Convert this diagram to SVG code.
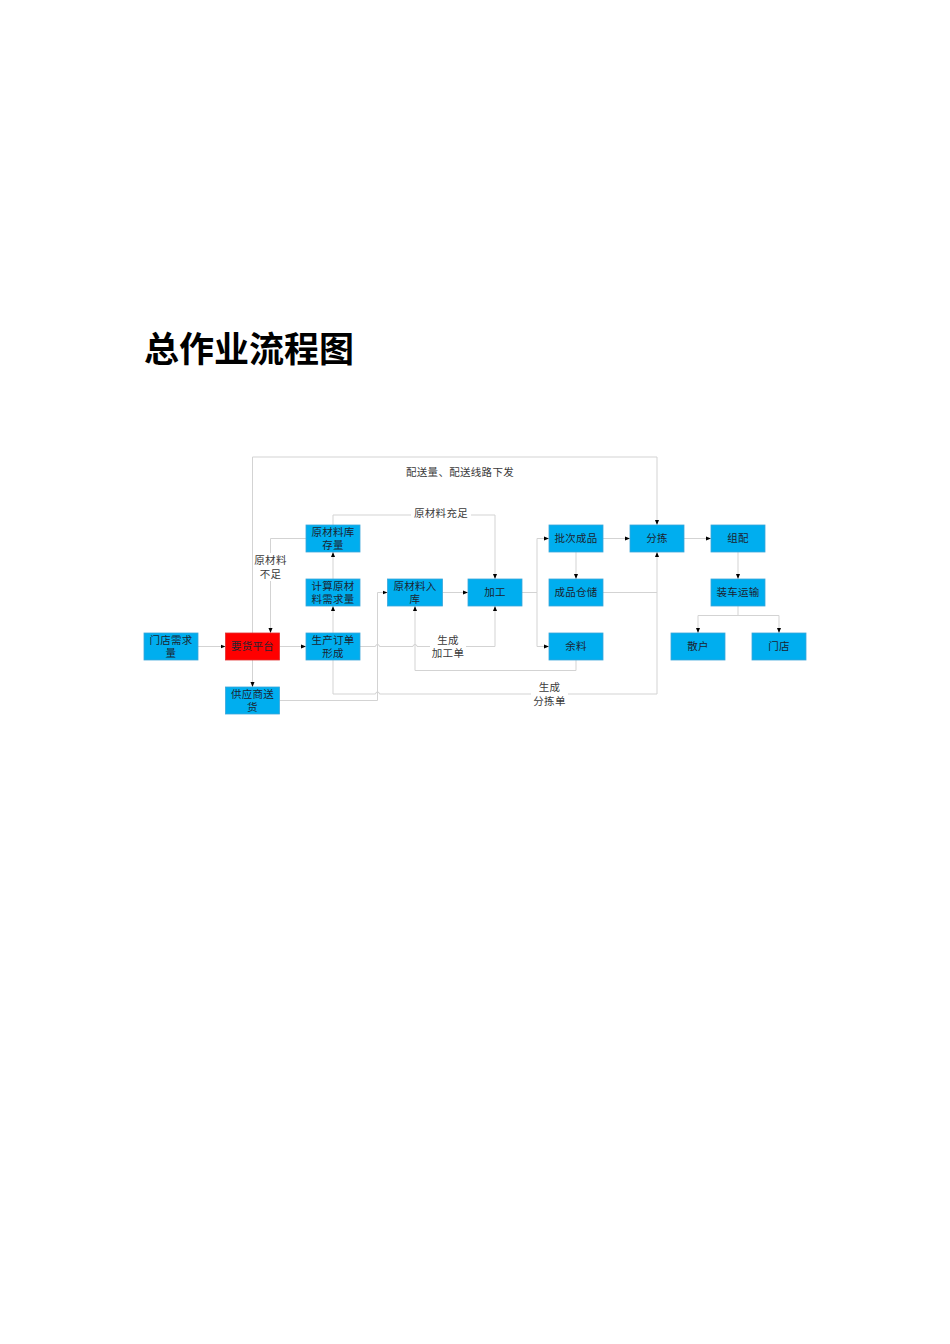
<svg xmlns="http://www.w3.org/2000/svg" width="950" height="1344" viewBox="0 0 950 1344">
<style>
.bg{fill:#ffffff}
.box{fill:#00AEEF;stroke:#3AA6DA;stroke-width:0.8}
.red{fill:#FF0000;stroke:#E03030;stroke-width:0.8}
.bt{font-family:"Liberation Serif","Noto Sans CJK SC",serif;font-size:10.5px;fill:#1c2430;text-anchor:middle;dominant-baseline:central;letter-spacing:0.3px}
.lt{font-family:"Liberation Serif","Noto Sans CJK SC",serif;font-size:10.5px;fill:#3a3a3a;text-anchor:middle;dominant-baseline:central;letter-spacing:0.3px}
.ln{fill:none;stroke:#D3D3D3;stroke-width:1}
.title{font-family:"Liberation Sans","Noto Sans CJK SC",sans-serif;font-size:35px;font-weight:bold;fill:#000000}
</style>
<defs>
<marker id="ar" viewBox="0 0 10 10" refX="10" refY="5" markerWidth="5" markerHeight="5" markerUnits="userSpaceOnUse" orient="auto">
<path d="M0,1 L10,5 L0,9 z" fill="#000000"/>
</marker>
</defs>
<rect class="bg" x="0" y="0" width="950" height="1344"/>
<text class="title" x="144" y="362">总作业流程图</text>

<g id="connectors">
<path class="ln" d="M198,646.5 H225.5" marker-end="url(#ar)"/>
<path class="ln" d="M279.5,646.5 H306" marker-end="url(#ar)"/>
<path class="ln" d="M252.5,660 V687" marker-end="url(#ar)"/>
<path class="ln" d="M252.5,633 V457 H657 V525" marker-end="url(#ar)"/>
<path class="ln" d="M306,538.5 H270.5 V633" marker-end="url(#ar)"/>
<path class="ln" d="M333,633 V606" marker-end="url(#ar)"/>
<path class="ln" d="M333,579 V552" marker-end="url(#ar)"/>
<path class="ln" d="M333,525 V515 H495 V579" marker-end="url(#ar)"/>
<path class="ln" d="M360,646.5 H375.5 A2,2 0 0 1 379.5,646.5 H413 A2,2 0 0 1 417,646.5 H495 V606" marker-end="url(#ar)"/>
<path class="ln" d="M279.5,700.5 H377.5 V592.5 H387.5" marker-end="url(#ar)"/>
<path class="ln" d="M442.5,592.5 H468" marker-end="url(#ar)"/>
<path class="ln" d="M576,660 V670.5 H415 V606" marker-end="url(#ar)"/>
<path class="ln" d="M522,592.5 H537"/>
<path class="ln" d="M537,592.5 V538.5 H549" marker-end="url(#ar)"/>
<path class="ln" d="M537,592.5 V646.5 H549" marker-end="url(#ar)"/>
<path class="ln" d="M576,552 V579" marker-end="url(#ar)"/>
<path class="ln" d="M603,538.5 H630" marker-end="url(#ar)"/>
<path class="ln" d="M603,592.5 H657"/>
<path class="ln" d="M333,660 V694 H375.5 A2,2 0 0 1 379.5,694 H657 V552" marker-end="url(#ar)"/>
<path class="ln" d="M684,538.5 H711" marker-end="url(#ar)"/>
<path class="ln" d="M738,552 V579" marker-end="url(#ar)"/>
<path class="ln" d="M738,606 V615.5"/>
<path class="ln" d="M738,615.5 H698 V633" marker-end="url(#ar)"/>
<path class="ln" d="M738,615.5 H779 V633" marker-end="url(#ar)"/>
</g>

<g id="labels">
<text class="lt" x="460" y="472.5">配送量、配送线路下发</text>
<rect class="bg" x="411" y="507" width="60" height="14"/>
<text class="lt" x="441" y="513.5">原材料充足</text>
<rect class="bg" x="253" y="553" width="35" height="28"/>
<text class="lt" x="270.5" y="560.5">原材料</text>
<text class="lt" x="270.5" y="574">不足</text>
<rect class="bg" x="430" y="633" width="36" height="27"/>
<text class="lt" x="448" y="640">生成</text>
<text class="lt" x="448" y="653.5">加工单</text>
<rect class="bg" x="531" y="680" width="37" height="28"/>
<text class="lt" x="549.5" y="687.5">生成</text>
<text class="lt" x="549.5" y="701.5">分拣单</text>
</g>

<g id="n-mendian-xuqiu"><rect class="box" x="144" y="633" width="54" height="27"/><text class="bt" x="171" y="640">门店需求</text><text class="bt" x="171" y="653">量</text></g>
<g id="n-yaohuo"><rect class="red" x="225.5" y="633" width="54" height="27"/><text class="bt" x="252.5" y="646.5">要货平台</text></g>
<g id="n-shengchan"><rect class="box" x="306" y="633" width="54" height="27"/><text class="bt" x="333" y="640">生产订单</text><text class="bt" x="333" y="653">形成</text></g>
<g id="n-jisuan"><rect class="box" x="306" y="579" width="54" height="27"/><text class="bt" x="333" y="586">计算原材</text><text class="bt" x="333" y="599">料需求量</text></g>
<g id="n-kucun"><rect class="box" x="306" y="525" width="54" height="27"/><text class="bt" x="333" y="532">原材料库</text><text class="bt" x="333" y="545">存量</text></g>
<g id="n-gongying"><rect class="box" x="225.5" y="687" width="54" height="27"/><text class="bt" x="252.5" y="694">供应商送</text><text class="bt" x="252.5" y="707">货</text></g>
<g id="n-ruku"><rect class="box" x="387.5" y="579" width="55" height="27"/><text class="bt" x="415" y="586">原材料入</text><text class="bt" x="415" y="599">库</text></g>
<g id="n-jiagong"><rect class="box" x="468" y="579" width="54" height="27"/><text class="bt" x="495" y="592.5">加工</text></g>
<g id="n-pici"><rect class="box" x="549" y="525" width="54" height="27"/><text class="bt" x="576" y="538.5">批次成品</text></g>
<g id="n-cangchu"><rect class="box" x="549" y="579" width="54" height="27"/><text class="bt" x="576" y="592.5">成品仓储</text></g>
<g id="n-yuliao"><rect class="box" x="549" y="633" width="54" height="27"/><text class="bt" x="576" y="646.5">余料</text></g>
<g id="n-fenjian"><rect class="box" x="630" y="525" width="54" height="27"/><text class="bt" x="657" y="538.5">分拣</text></g>
<g id="n-zupei"><rect class="box" x="711" y="525" width="54" height="27"/><text class="bt" x="738" y="538.5">组配</text></g>
<g id="n-zhuangche"><rect class="box" x="711" y="579" width="54" height="27"/><text class="bt" x="738" y="592.5">装车运输</text></g>
<g id="n-sanhu"><rect class="box" x="671" y="633" width="54" height="27"/><text class="bt" x="698" y="646.5">散户</text></g>
<g id="n-mendian"><rect class="box" x="752" y="633" width="54" height="27"/><text class="bt" x="779" y="646.5">门店</text></g>
</svg>
